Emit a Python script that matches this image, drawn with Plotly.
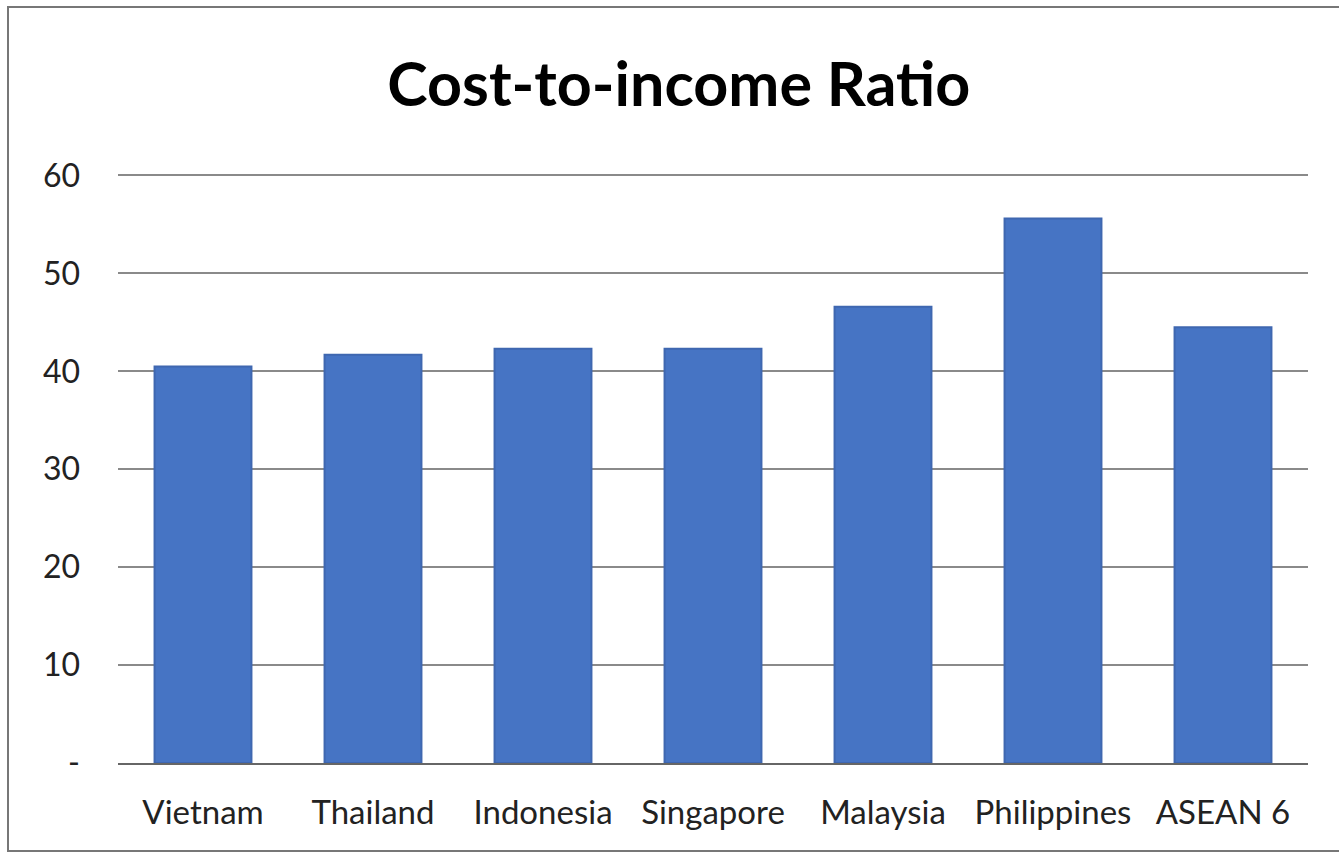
import plotly.graph_objects as go

categories = ["Vietnam", "Thailand", "Indonesia", "Singapore", "Malaysia", "Philippines", "ASEAN 6"]
values = [40.5, 41.7, 42.3, 42.3, 46.6, 55.6, 44.5]
tick_vals = [0, 10, 20, 30, 40, 50, 60]
tick_text = ["-", "10", "20", "30", "40", "50", "60"]

fig = go.Figure()
fig.add_trace(go.Bar(
    x=categories, y=values,
    marker=dict(color="#4674c4", line=dict(color="#3f67b0", width=2)),
    width=0.57,
))

fig.update_layout(
    width=1339, height=856,
    margin=dict(l=118, r=31, t=174, b=93),
    paper_bgcolor="white", plot_bgcolor="white",
    title=dict(text="<b>Cost-to-income Ratio</b>", x=0.507, xanchor="center",
               y=1 - 85/856, yanchor="middle",
               font=dict(family="Lato", size=61, color="black")),
    showlegend=False,
    font=dict(family="Lato", color="#222"),
)
fig.update_yaxes(range=[0, 60.15], tickvals=tick_vals, ticktext=tick_text,
                 showgrid=True, gridcolor="#8a8a8a", gridwidth=1.5,
                 zeroline=False, showline=False,
                 tickfont=dict(size=32, color="#222"), ticklabelstandoff=37)
fig.update_xaxes(showline=True, linecolor="#666", linewidth=1.5,
                 tickfont=dict(size=33, color="#222"), ticklabelstandoff=20)
fig.add_shape(type="rect", xref="paper", yref="paper",
              x0=-110/1190, x1=1.06, y0=-88/589, y1=1 + 167/589,
              line=dict(color="#777", width=2), fillcolor="rgba(0,0,0,0)")

fig.write_html("out.html")
